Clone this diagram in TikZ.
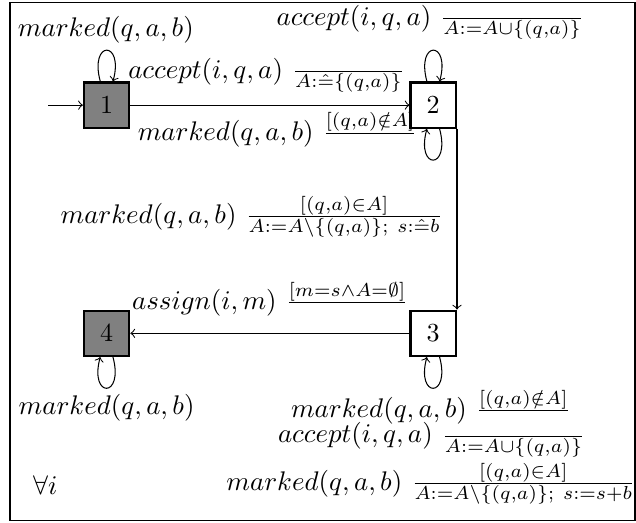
\documentclass[tikz,border=0pt]{standalone}
\usepackage{amsmath}
\usepackage{amssymb}
\usepackage{tikz}
\usetikzlibrary{positioning}

\begin{document}
\begin{tikzpicture}[
  state/.style={rectangle, draw=black, line width=0.9pt,
                minimum size=6.1mm, inner sep=0pt},
  final/.style={state, fill=black!50},
  lbl/.style={inner sep=0pt, scale=1.035},
  every loop/.style={->, min distance=5.8mm}
]
\useasboundingbox (0,0) rectangle (85.9mm,-70.6mm);
% Frame round the automaton
\draw[line width=0.5pt] (1.35mm,-0.3mm) rectangle (85.75mm,-70.3mm);
% The 4 states
\node[final] (s1) at (14.4mm,-14.2mm)     {$1$};
\node[state, right=37.7mm of s1] (s2)     {$2$};
\node[state, below=24.4mm of s2] (s3)     {$3$};
\node[final, left=37.7mm of s3]  (s4)     {$4$};
\coordinate[left=4.7mm of s1] (start);
% Transitions
\draw[->] (start) -- (s1);
\draw[->] (s1) -- (s2);
\draw[->] (s2.south east) -- (s3.north east);
\draw[->] (s3) -- (s4);
\path (s1) edge[loop above] (s1);
\path (s2) edge[loop above] (s2);
\path (s2) edge[loop below] (s2);
\path (s3) edge[loop below] (s3);
\path (s4) edge[loop below] (s4);
% Labels
\node[lbl] (l1) at (14.3mm,-4.05mm) {$marked(q,a,b)$};
\node[lbl] (l2a) at (58.1mm,-3.0mm)
  {$accept(i,q,a)\ \frac{}{A:=A\cup\{(q,a)\}}$};
\node[lbl] (l12) at (36.0mm,-10.2mm)
  {$accept(i,q,a)\ \frac{}{A:\hat{=}\{(q,a)\}}$};
\node[lbl] (l2b) at (37.5mm,-17.7mm)
  {$marked(q,a,b)\ \frac{[(q,a)\notin A]}{}$};
\node[lbl] (l23) at (34.0mm,-29.3mm)
  {$marked(q,a,b)\ \frac{[(q,a)\in A]}{A:=A\setminus\{(q,a)\};\ s:\hat{=}b}$};
\node[lbl] (l34) at (36.5mm,-40.6mm)
  {$assign(i,m)\ \frac{[m=s\wedge A=\emptyset]}{}$};
\node[lbl] (l4) at (14.4mm,-55.1mm) {$marked(q,a,b)$};
\node[lbl] (l3a) at (58.2mm,-55.2mm)
  {$marked(q,a,b)\ \frac{[(q,a)\notin A]}{}$};
\node[lbl] (l3b) at (58.3mm,-59.4mm)
  {$accept(i,q,a)\ \frac{}{A:=A\cup\{(q,a)\}}$};
\node[lbl] (l3c) at (58.2mm,-65.3mm)
  {$marked(q,a,b)\ \frac{[(q,a)\in A]}{A:=A\setminus\{(q,a)\};\ s:=s+b}$};
\node[lbl] (all) at (6.1mm,-65.5mm) {$\forall i$};
\end{tikzpicture}
\end{document}
